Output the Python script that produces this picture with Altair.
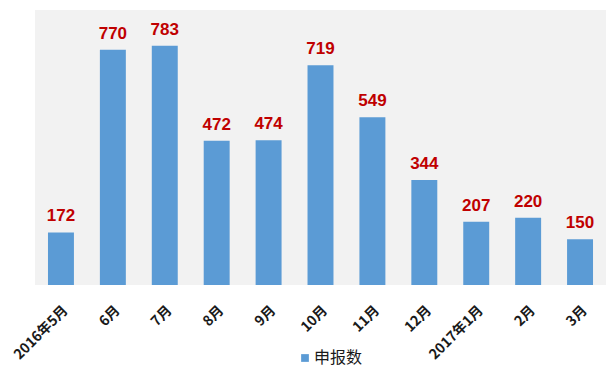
import altair as alt
import pandas as pd

# Monthly declaration counts
months = ["2016年5月", "6月", "7月", "8月", "9月", "10月", "11月", "12月",
          "2017年1月", "2月", "3月"]
counts = [172, 770, 783, 472, 474, 719, 549, 344, 207, 220, 150]
series_name = "申报数"

df = pd.DataFrame({"month": months, "count": counts, "series": series_name})

x_enc = alt.X(
    "month:N", sort=months, title=None,
    scale=alt.Scale(paddingInner=0.5, paddingOuter=0.25),
    axis=alt.Axis(labelAngle=-45, labelFontWeight="bold", labelFontSize=14,
                  labelColor="#1a1a1a", labelFont="Noto Sans CJK SC",
                  domain=False, ticks=False, labelPadding=18),
)
y_enc = alt.Y("count:Q", scale=alt.Scale(domain=[0, 900]), axis=None)

bars = alt.Chart(df).mark_bar(color="#5B9BD5").encode(
    x=x_enc,
    y=y_enc,
    color=alt.Color(
        "series:N",
        scale=alt.Scale(range=["#5B9BD5"]),
        legend=alt.Legend(title=None, orient="none", legendX=262, legendY=340,
                          symbolType="square", symbolSize=60, symbolOffset=0,
                          labelFontSize=16, labelFont="Noto Sans CJK SC",
                          labelColor="#1a1a1a", labelOffset=1),
    ),
)

labels = alt.Chart(df).mark_text(
    dy=-16, fontSize=17, fontWeight="bold", color="#C00000",
    font="Liberation Sans",
).encode(x=alt.X("month:N", sort=months), y="count:Q", text="count:Q")

chart = (
    alt.layer(bars, labels)
    .properties(
        width=571, height=275,
        autosize=alt.AutoSizeParams(type="none"),
        padding={"left": 35, "top": 10, "right": 0, "bottom": 88},
        background="white",
    )
    .configure_view(fill="#F2F2F2", stroke=None)
)

chart.save("out.html", embed_options={"renderer": "svg", "actions": False})
